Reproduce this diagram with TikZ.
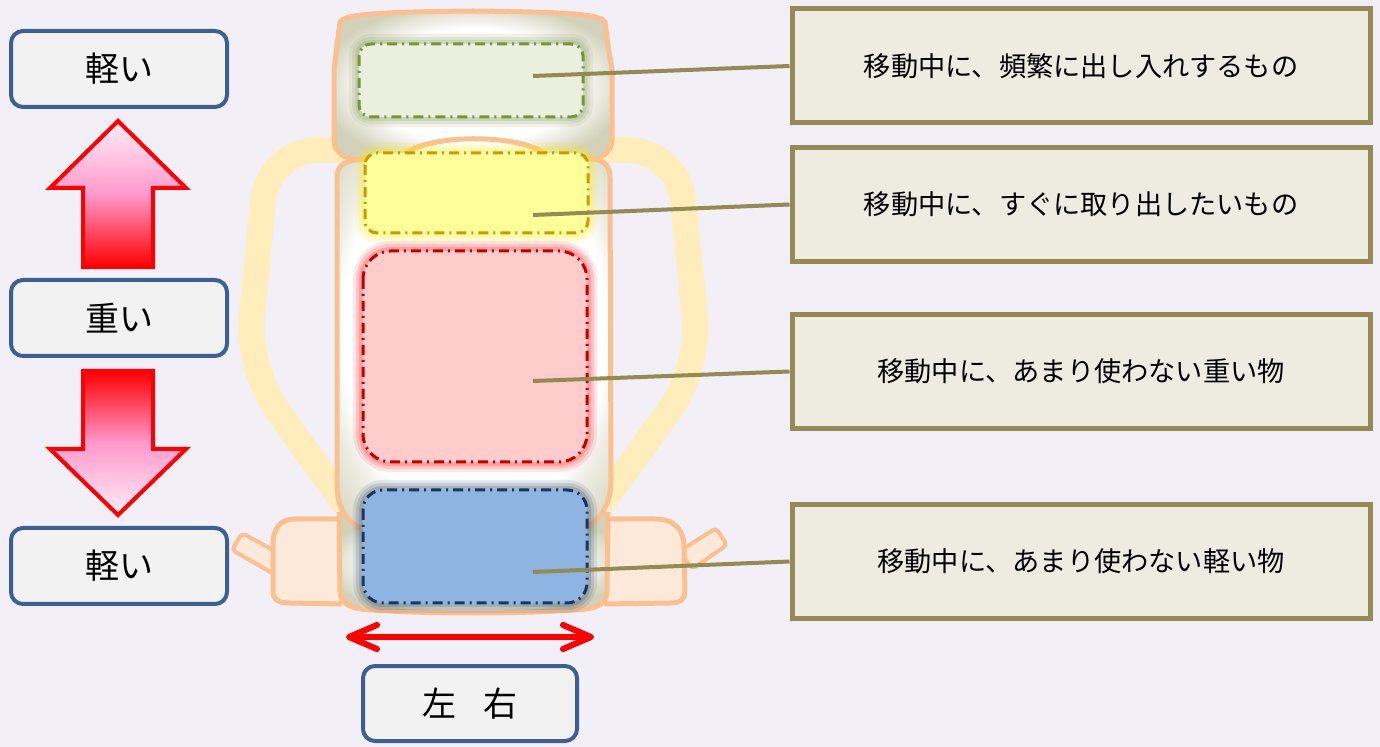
\documentclass[tikz,border=0pt]{standalone}
\usepackage{fontspec}
\setmainfont{Noto Sans CJK JP}
\usetikzlibrary{arrows.meta}

\definecolor{bg}{RGB}{242,240,246}
\definecolor{lblue}{RGB}{60,96,145}
\definecolor{lfill}{RGB}{242,242,242}
\definecolor{olive}{RGB}{148,138,84}
\definecolor{cream}{RGB}{238,236,225}
\definecolor{bagline}{RGB}{250,192,144}
\definecolor{strapc}{RGB}{255,237,188}
\definecolor{beltfill}{RGB}{253,233,217}
\definecolor{bagedge}{RGB}{210,210,188}
\definecolor{pgreen}{RGB}{235,239,222}
\definecolor{lgreen}{RGB}{119,147,60}
\definecolor{pyellow}{RGB}{255,255,153}
\definecolor{lyellow}{RGB}{204,153,0}
\definecolor{ppink}{RGB}{255,204,204}
\definecolor{lred}{RGB}{192,0,0}
\definecolor{pblue}{RGB}{142,180,227}
\definecolor{lnavy}{RGB}{23,55,94}
\definecolor{arrowpink}{RGB}{255,153,204}
\definecolor{arrowpale}{RGB}{255,238,246}

% soft white centre fading to a beige-grey rim
\pgfdeclareradialshading{lidshade}{\pgfpoint{0bp}{0bp}}{color(0bp)=(white); color(19bp)=(white); color(28bp)=(bagedge); color(50bp)=(bagedge)}
\pgfdeclareradialshading{bodyshade}{\pgfpoint{0bp}{0bp}}{color(0bp)=(white); color(24bp)=(white); color(28bp)=(bagedge!45!white); color(36bp)=(bagedge); color(50bp)=(bagedge)}

\begin{document}
\begin{tikzpicture}[x=0.5pt,y=-0.5pt,
  levelbox/.style={draw=lblue, fill=lfill, line width=2pt, rounded corners=6pt,
    minimum width=108pt, minimum height=38pt, inner sep=0pt,
    font=\fontsize{17}{20}\selectfont},
  notebox/.style={draw=olive, fill=cream, line width=2.5pt,
    minimum width=289pt, minimum height=57pt, inner sep=0pt,
    font=\fontsize{13.6}{16}\selectfont},
  leader/.style={olive, line width=2pt},
  bagoutline/.style={draw=bagline, line width=2.5pt, line join=round},
  strap/.style={strapc, line width=13pt, line join=round, rounded corners=25pt},
  pocket/.style={line width=1.5pt, dash pattern=on 5pt off 2.5pt on 1pt off 2.5pt},
  blockarrow/.style={draw=red, line width=2pt, line join=miter}]

\useasboundingbox (0,0) rectangle (1380,747);
\fill[bg] (0,0) rectangle (1380,747);

% shoulder straps
\draw[strap] (345,150) -- (268,150) -- (247,368) -- (345,505);
\draw[strap] (601,150) -- (678,150) -- (700,368) -- (601,505);

% hip belt tabs
\draw[bagoutline, fill=beltfill, line width=2pt, rounded corners=2pt]
  (232,550) -- (242,533) -- (284,556) -- (274,574) -- cycle;
\draw[bagoutline, fill=beltfill, line width=2pt, rounded corners=2pt]
  (680,551) -- (716,528) -- (727,545) -- (692,569) -- cycle;

% hip belts
\draw[bagoutline, fill=beltfill]
  (342,519) -- (295,519) .. controls (280,519) and (273,528) .. (273,545)
  -- (273,590) .. controls (273,600) and (278,603) .. (290,603) -- (342,604);
\draw[bagoutline, fill=beltfill]
  (604,519) -- (655,519) .. controls (675,519) and (684,530) .. (684,548)
  -- (685,590) .. controls (685,600) and (680,603) .. (670,603) -- (604,604);

% bottom compartment
\path[shading=lidshade] (339,512) -- (340,592) .. controls (341,605) and (352,609) .. (372,610)
  .. controls (430,614) and (516,614) .. (574,610) .. controls (596,609) and (606,605) .. (607,592)
  -- (608,512) -- cycle;
\draw[bagoutline] (339,512) -- (340,592) .. controls (341,605) and (352,609) .. (372,610)
  .. controls (430,614) and (516,614) .. (574,610) .. controls (596,609) and (606,605) .. (607,592)
  -- (608,512);

% lid
\path[shading=lidshade] (340,22) .. controls (345,14) and (380,12) .. (473,11)
  .. controls (566,12) and (600,14) .. (605,22) -- (608,45) -- (612,70) -- (612,140)
  .. controls (612,152) and (600,160) .. (588,160) -- (360,160)
  .. controls (345,160) and (334,152) .. (334,140) -- (334,70) -- (337,45) -- cycle;
\draw[bagoutline] (340,22) .. controls (345,14) and (380,12) .. (473,11)
  .. controls (566,12) and (600,14) .. (605,22) -- (608,45) -- (612,70) -- (612,140)
  .. controls (612,152) and (600,160) .. (588,160) -- (360,160)
  .. controls (345,160) and (334,152) .. (334,140) -- (334,70) -- (337,45) -- cycle;

% main body
\path[shading=bodyshade] (337,485) -- (337,178) .. controls (337,166) and (343,162) .. (356,160)
  -- (400,157) .. controls (425,133) and (520,133) .. (547,155) -- (592,159)
  .. controls (604,160) and (610,166) .. (610,178) -- (611,480)
  .. controls (611,505) and (600,520) .. (585,528) -- (360,528)
  .. controls (345,520) and (337,505) .. (337,485) -- cycle;
\draw[bagoutline] (360,528) .. controls (345,520) and (337,505) .. (337,485)
  -- (337,178) .. controls (337,166) and (343,162) .. (356,160)
  -- (400,157) .. controls (425,133) and (520,133) .. (547,155) -- (592,159)
  .. controls (604,160) and (610,166) .. (610,178) -- (611,480)
  .. controls (611,505) and (600,520) .. (585,528);

% pockets with a soft glow around each
\foreach \xa/\ya/\xb/\yb/\r/\gc/\fc/\lc in {
    359/44/583/117/6pt/lgreen/pgreen/lgreen,
    365/153/588/233/6pt/yellow/pyellow/lyellow,
    363/251/587/462/14pt/red/ppink/lred,
    363/490/587/603/10pt/lnavy/pblue/lnavy} {
  \draw[\gc, line width=10pt, opacity=0.10, rounded corners=\r] (\xa,\ya) rectangle (\xb,\yb);
  \draw[\gc, line width=7pt, opacity=0.14, rounded corners=\r] (\xa,\ya) rectangle (\xb,\yb);
  \draw[\gc, line width=4pt, opacity=0.18, rounded corners=\r] (\xa,\ya) rectangle (\xb,\yb);
  \fill[\fc, rounded corners=\r] (\xa,\ya) rectangle (\xb,\yb);
  \draw[pocket, \lc, rounded corners=\r] (\xa,\ya) rectangle (\xb,\yb);
}

% anchor points inside the pockets
\coordinate (p1) at (533,76);
\coordinate (p2) at (533,215);
\coordinate (p3) at (533,381);
\coordinate (p4) at (533,572);

% descriptions
\node[notebox] (n1) at (1081,66)    {移動中に、頻繁に出し入れするもの};
\node[notebox] (n2) at (1081,204.5) {移動中に、すぐに取り出したいもの};
\node[notebox] (n3) at (1081,371.5) {移動中に、あまり使わない重い物};
\node[notebox] (n4) at (1081,561.5) {移動中に、あまり使わない軽い物};

\draw[leader] (p1) -- (n1.west);
\draw[leader] (p2) -- (n2.west);
\draw[leader] (p3) -- (n3.west);
\draw[leader] (p4) -- (n4.west);

% weight scale on the left
\node[levelbox] (w1) at (119,69)  {軽い};
\node[levelbox] (w2) at (119,318) {重い};
\node[levelbox] (w3) at (119,566) {軽い};

\draw[blockarrow, top color=arrowpale, bottom color=red, middle color=arrowpink]
  (118,121) -- (186,188) -- (153,188) -- (153,267) -- (83,267) -- (83,188) -- (50,188) -- cycle;
\draw[blockarrow, top color=red, bottom color=arrowpale, middle color=arrowpink]
  (83,371) -- (153,371) -- (153,449) -- (186,449) -- (118,515) -- (50,449) -- (83,449) -- cycle;

% left-right span
\coordinate (lrL) at (346,637);
\coordinate (lrR) at (594,637);
\draw[red, line width=3pt, {Straight Barb[length=14pt, width=12pt, round]}-{Straight Barb[length=14pt, width=12pt, round]}] (lrL) -- (lrR);
\node[levelbox, minimum width=107pt, minimum height=37.5pt] (lr) at (470,703.5) {左\hspace{0.8em}右};

\end{tikzpicture}
\end{document}
